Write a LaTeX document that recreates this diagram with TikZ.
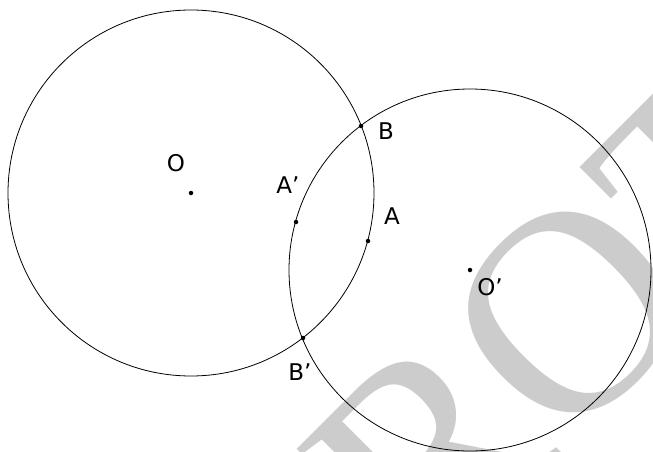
\documentclass[tikz,border=0pt]{standalone}
\usepackage{fontspec}
\setsansfont{DejaVu Sans}
\newfontfamily\wmfont{Liberation Serif}

\begin{document}
\begin{tikzpicture}[x=1pt,y=-1pt,
  crc/.style={line width=0.8pt},
  dt/.style={circle,fill,inner sep=0pt,minimum size=4.5pt},
  lb/.style={font=\sffamily\fontsize{23}{26}\selectfont,inner sep=0pt},
  wm/.style={font=\wmfont\fontsize{290}{290}\selectfont,text=black!20,rotate=45,inner sep=0pt}]
\useasboundingbox (0,0) rectangle (653,452);
\clip (0,0) rectangle (653,452);
%------------- watermark
\node[wm] (wm) at (564,318) {ROT};
%------------- the two circles
\coordinate (O) at (191,193); \coordinate (Op) at (470,270);
\draw[crc] (O) circle[radius=183];
\draw[crc] (Op) circle[radius=181];
%------------- points
\node[dt] (pO) at (O) {}; \node[dt] (pOp) at (Op) {};
\node[dt] (pB) at (361,126) {}; \node[dt] (pBp) at (303,338) {};
\node[dt] (pA) at (368,241) {}; \node[dt] (pAp) at (296,222) {};
%------------- labels
\node[lb] (lO) at (176,163) {O};
\node[lb] (lOp) at (490,287) {O’};
\node[lb] (lB) at (386,131) {B};
\node[lb] (lBp) at (300,372) {B’};
\node[lb] (lA) at (392,216) {A};
\node[lb] (lAp) at (288,185) {A’};
\end{tikzpicture}
\end{document}
